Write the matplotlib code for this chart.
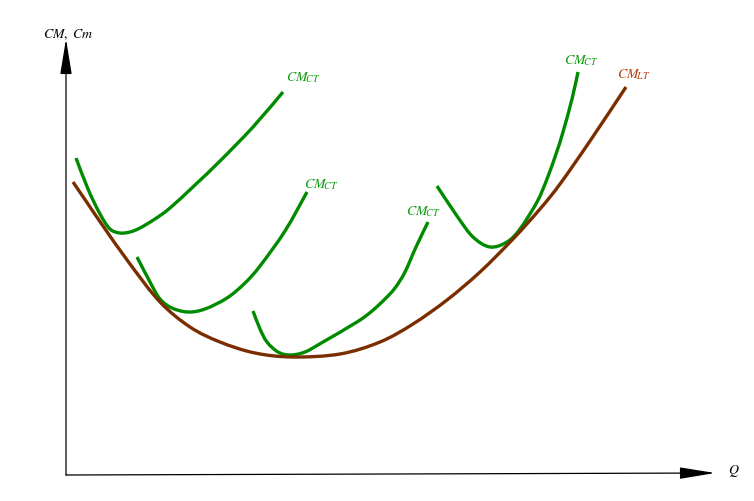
import matplotlib
matplotlib.use("Agg")
import matplotlib.pyplot as plt
from matplotlib.path import Path
from matplotlib.patches import PathPatch

plt.rcParams['mathtext.fontset'] = 'stix'
plt.rcParams['font.family'] = ['Liberation Serif', 'DejaVu Serif']

# Long-run average cost (CM_LT)
lt_q = [7, 22, 37, 64, 94, 124, 154, 189, 227, 274, 314, 347, 381, 414, 447, 474, 494, 524, 560]
lt_c = [293, 271, 249, 211, 173, 148, 133, 122, 118, 121, 133, 151, 175, 203, 236, 266, 291, 334, 388]

# Short-run average cost curves (CM_CT)
ct1_q = [10, 22, 34, 44, 54, 64, 74, 89, 104, 129, 154, 187, 217]
ct1_c = [317, 286, 261, 246, 242, 243, 247, 256, 267, 290, 314, 348, 383]

ct2_q = [71, 84, 94, 106, 122, 139, 161, 179, 194, 219, 241]
ct2_c = [218, 193, 176, 167, 163, 166, 177, 192, 209, 244, 283]

ct3_q = [187, 194, 201, 212, 224, 239, 257, 291, 306, 319, 329, 339, 350, 362]
ct3_c = [164, 146, 133, 123, 120, 123, 133, 153, 164, 176, 187, 203, 228, 253]

ct4_q = [371, 391, 407, 424, 441, 454, 471, 481, 490, 497, 506, 512]
ct4_c = [289, 259, 238, 228, 233, 246, 273, 296, 321, 343, 376, 403]

green = '#008a00'
green_txt = '#0a9a0a'
brown = '#7a2e00'
brown_txt = '#b0400a'


def smooth_path(q, c):
    """Build a smooth Bezier path through the given points (Catmull-Rom style)."""
    pts = list(zip(q, c))
    n = len(pts)
    verts = [pts[0]]
    codes = [Path.MOVETO]
    for i in range(n - 1):
        p0 = pts[i - 1] if i > 0 else pts[i]
        p1 = pts[i]
        p2 = pts[i + 1]
        p3 = pts[i + 2] if i + 2 < n else pts[i + 1]
        c1 = (p1[0] + (p2[0] - p0[0]) / 6.0, p1[1] + (p2[1] - p0[1]) / 6.0)
        c2 = (p2[0] - (p3[0] - p1[0]) / 6.0, p2[1] - (p3[1] - p1[1]) / 6.0)
        verts += [c1, c2, p2]
        codes += [Path.CURVE4] * 3
    return Path(verts, codes)


fig = plt.figure(figsize=(7.54, 5.02), dpi=100)
ax = fig.add_axes([0, 0, 1, 1])
ax.set_xlim(-66, 688)
ax.set_ylim(-26, 476)
ax.axis('off')

for q, c in [(ct1_q, ct1_c), (ct2_q, ct2_c), (ct3_q, ct3_c), (ct4_q, ct4_c)]:
    ax.add_patch(PathPatch(smooth_path(q, c), facecolor='none', edgecolor=green,
                           lw=2.4, capstyle='butt', joinstyle='round'))
ax.add_patch(PathPatch(smooth_path(lt_q, lt_c), facecolor='none', edgecolor=brown,
                       lw=2.4, capstyle='butt', joinstyle='round'))

# axes with arrows
arrow = dict(arrowstyle='-|>,head_length=1.1,head_width=0.18', color='black', lw=0.9,
             shrinkA=0, shrinkB=0, mutation_scale=20)
ax.annotate('', xy=(0, 436), xytext=(0, 0), arrowprops=arrow)
ax.annotate('', xy=(649, 2), xytext=(0, 0), arrowprops=arrow)

ax.text(-23, 441, r'$CM,\ Cm$', fontsize=10, ha='left', va='center')
ax.text(662, 5, r'$Q$', fontsize=10, ha='left', va='center')

lab = r'$CM_{\!CT}$'
ax.text(220, 398, lab, fontsize=10, color=green_txt, ha='left', va='center')
ax.text(238, 291, lab, fontsize=10, color=green_txt, ha='left', va='center')
ax.text(340, 264, lab, fontsize=10, color=green_txt, ha='left', va='center')
ax.text(498, 415, lab, fontsize=10, color=green_txt, ha='left', va='center')
ax.text(551, 401, r'$CM_{\!LT}$', fontsize=10, color=brown_txt, ha='left', va='center')

fig.savefig('out.png', dpi=100)
